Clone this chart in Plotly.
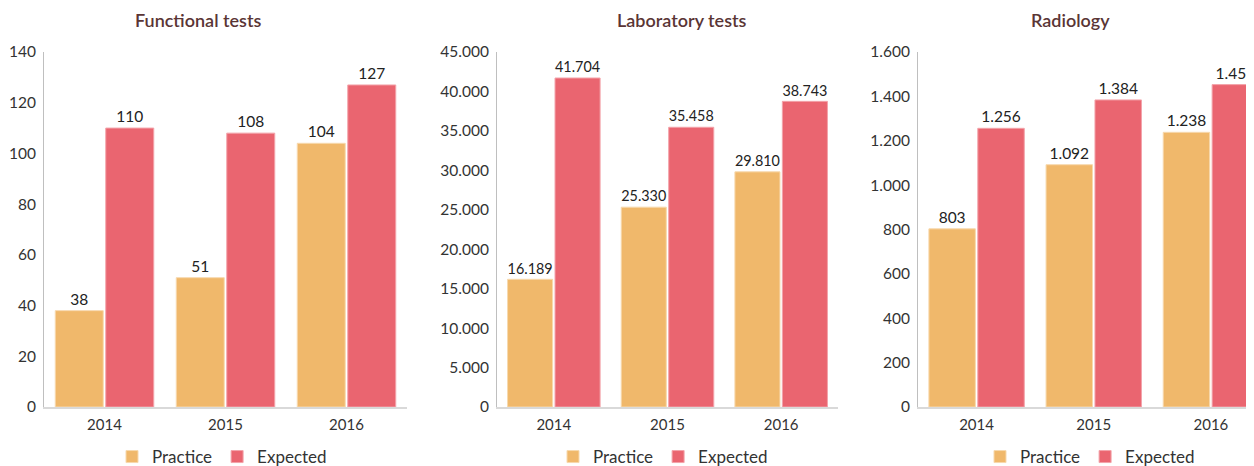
import plotly.graph_objects as go

# the page body adds an 8px margin, so the figure is drawn that much smaller
OFF = 8
W, H = 1254 - OFF, 466 - OFF

years = ["2014", "2015", "2016"]
titles = ["Functional tests", "Laboratory tests", "Radiology"]

functional_practice = [38, 51, 104]
functional_expected = [110, 108, 127]
lab_practice = [16189, 25330, 29810]
lab_expected = [41704, 35458, 38743]
radio_practice = [803, 1092, 1238]
radio_expected = [1256, 1384, 1453]

y_max = [140, 45000, 1600]
y_step = [20, 5000, 200]

PRACTICE = "#F0B86B"
EXPECTED = "#EA6570"
FONT = "Lato, 'DejaVu Sans', sans-serif"

# panel positions in page pixels (left, right, title center, legend center)
panels = [
    (44, 407, 198, 222),
    (497, 838, 682, 663),
    (918, 1269.5, 1070, 1090),
]
plot_top, plot_bottom = 52, 407


def px_x(v):
    return (v - OFF) / W


def px_y(v):
    return 1 - (v - OFF) / H


series = [
    (functional_practice, functional_expected),
    (lab_practice, lab_expected),
    (radio_practice, radio_expected),
]

fig = go.Figure()
layout = dict(
    width=W, height=H,
    margin=dict(l=0, r=0, t=0, b=0, autoexpand=False),
    paper_bgcolor="white", plot_bgcolor="white",
    separators=",.",
    barmode="group", bargap=0.165, bargroupgap=0.05,
    font=dict(family=FONT, size=15, color="#333333"),
    annotations=[],
)

for i, ((practice, expected), (x0, x1, tcx, lcx)) in enumerate(zip(series, panels)):
    n = "" if i == 0 else str(i + 1)
    leg = "legend" + n
    for name, vals, col, line in [("Practice", practice, PRACTICE, "#F7D9AE"),
                                  ("Expected", expected, EXPECTED, "#F3A3AA")]:
        fig.add_trace(go.Bar(
            x=years, y=vals, name=name,
            marker=dict(color=col, line=dict(color=line, width=1)),
            text=vals, texttemplate="%{y:,}", textposition="outside",
            textfont=dict(size=15.5, color="#222222"),
            cliponaxis=True,
            xaxis="x" + n, yaxis="y" + n, legend=leg,
        ))
    # the last panel runs past the right edge of the picture
    right = min(x1, 1254)
    span = (x1 - x0) / 3
    xr = [-0.5, 2.5 - (x1 - right) / span]
    layout["xaxis" + n] = dict(
        domain=[px_x(x0), px_x(right)], anchor="y" + n, type="category",
        range=xr, showline=True, linecolor="#d9d9d9", linewidth=2,
        ticks="", showgrid=False, automargin=False, ticklabelstandoff=3,
        tickfont=dict(size=15, color="#333333"),
    )
    layout["yaxis" + n] = dict(
        domain=[px_y(plot_bottom), px_y(plot_top)], anchor="x" + n,
        range=[0, y_max[i]], dtick=y_step[i], tickformat=",",
        showline=True, linecolor="#bfbfbf", linewidth=1, showgrid=False,
        zeroline=False, ticks="", ticklabelstandoff=4, automargin=False,
        tickfont=dict(size=15.5, color="#333333"),
    )
    layout[leg] = dict(
        orientation="h", x=px_x(lcx), y=px_y(457),
        xanchor="center", yanchor="middle", xref="container", yref="container",
        font=dict(size=17, color="#333333"), bgcolor="rgba(0,0,0,0)",
        itemwidth=30, tracegroupgap=0,
    )
    layout["annotations"].append(dict(
        text=titles[i], x=px_x(tcx), y=px_y(20),
        xref="paper", yref="paper", xanchor="center", yanchor="middle",
        showarrow=False, font=dict(size=18, color="#5a3535", weight=600),
    ))

fig.update_layout(**layout)
fig.write_html("out.html")
